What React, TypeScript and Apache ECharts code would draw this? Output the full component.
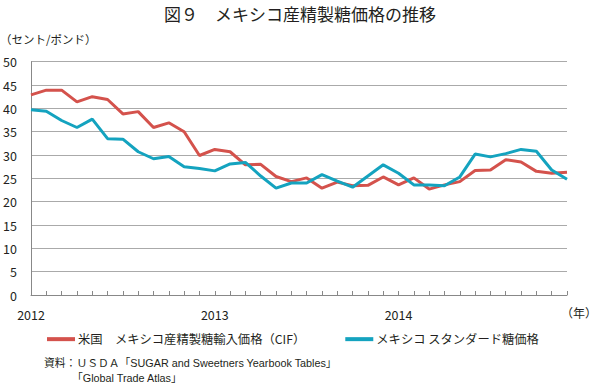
import React, { useEffect, useRef } from "react";
import * as echarts from "echarts";

const months: string[] = [
  "2012-01","2012-02","2012-03","2012-04","2012-05","2012-06","2012-07","2012-08","2012-09","2012-10","2012-11","2012-12",
  "2013-01","2013-02","2013-03","2013-04","2013-05","2013-06","2013-07","2013-08","2013-09","2013-10","2013-11","2013-12",
  "2014-01","2014-02","2014-03","2014-04","2014-05","2014-06","2014-07","2014-08","2014-09","2014-10","2014-11","2014-12",
];

const usImportCIF: number[] = [
  42.9, 43.9, 43.9, 41.4, 42.5, 41.9, 38.8, 39.3, 35.9, 36.9, 35.0, 29.9,
  31.2, 30.7, 27.9, 28.0, 25.4, 24.3, 25.1, 22.9, 24.2, 23.4, 23.5, 25.3,
  23.6, 25.1, 22.7, 23.6, 24.3, 26.7, 26.8, 29.0, 28.5, 26.5, 26.1, 26.3,
];

const mexicoStandard: number[] = [
  39.7, 39.4, 37.4, 35.9, 37.7, 33.5, 33.4, 30.7, 29.2, 29.7, 27.5, 27.1,
  26.6, 28.1, 28.4, 25.5, 22.9, 24.0, 24.0, 25.8, 24.4, 23.1, 25.5, 27.9,
  26.1, 23.6, 23.6, 23.4, 25.3, 30.2, 29.6, 30.3, 31.2, 30.8, 26.8, 24.8,
];

const seriesNames: string[] = [
  "米国　メキシコ産精製糖輸入価格（CIF）",
  "メキシコ スタンダード糖価格",
];

const titleText = "図９　メキシコ産精製糖価格の推移";
const unitText = "（セント/ポンド）";
const yearUnit = "（年）";
const sourceLines: string[] = [
  "資料：ＵＳＤＡ「SUGAR and Sweetners Yearbook Tables」",
  "「Global Trade Atlas」",
];

const FONT = "'Noto Sans CJK JP', 'Noto Sans', sans-serif";
const SRC_FONT = "'Liberation Sans', 'Noto Sans CJK JP', sans-serif";

export default function App() {
  const ref = useRef<HTMLDivElement>(null);

  useEffect(() => {
    document.body.style.margin = "0";
    if (!ref.current) return;
    const chart = echarts.init(ref.current, null, { renderer: "svg" });
    chart.setOption({
      animation: false,
      backgroundColor: "#ffffff",
      textStyle: { fontFamily: FONT },
      title: {
        text: titleText,
        left: "center",
        top: 0,
        textStyle: { fontSize: 17, fontWeight: "normal", color: "#231f20", fontFamily: FONT },
      },
      legend: {
        left: 42,
        top: 328,
        itemWidth: 28,
        itemHeight: 4,
        itemGap: 40,
        icon: "rect",
        textStyle: { fontSize: 12.3, color: "#231f20", fontFamily: FONT, padding: [0, 0, 0, -2] },
        data: seriesNames,
      },
      grid: { left: 31, right: 33, top: 61.7, bottom: 89, containLabel: false },
      xAxis: {
        type: "category",
        data: months,
        boundaryGap: false,
        axisLine: { show: true, lineStyle: { color: "#888", width: 1 } },
        axisTick: { show: true, inside: true, length: 4, interval: 0, lineStyle: { color: "#888" } },
        axisLabel: {
          interval: (i: number) => i % 12 === 0,
          formatter: (v: string) => v.slice(0, 4),
          fontSize: 12.5,
          color: "#231f20",
          margin: 13,
          fontFamily: FONT,
        },
        splitLine: { show: false },
      },
      yAxis: {
        type: "value",
        min: 0,
        max: 50,
        interval: 5,
        axisLine: { show: true, lineStyle: { color: "#888", width: 1 } },
        axisTick: { show: false },
        axisLabel: { fontSize: 12.5, color: "#231f20", margin: 14, fontFamily: FONT },
        splitLine: { show: true, lineStyle: { color: "#aaa", width: 1 } },
      },
      series: [
        {
          name: seriesNames[0],
          type: "line",
          data: usImportCIF,
          symbol: "none",
          lineStyle: { width: 3, color: "#d4524c" },
          itemStyle: { color: "#d4524c" },
        },
        {
          name: seriesNames[1],
          type: "line",
          data: mexicoStandard,
          symbol: "none",
          lineStyle: { width: 3, color: "#14a3bf" },
          itemStyle: { color: "#14a3bf" },
        },
      ],
      graphic: [
        {
          type: "text",
          left: 0,
          top: 33,
          style: { text: unitText, fontSize: 11.5, fill: "#231f20", fontFamily: FONT },
        },
        {
          type: "text",
          right: 3,
          top: 306,
          style: { text: yearUnit, fontSize: 12, fill: "#231f20", fontFamily: FONT },
        },
        {
          type: "text",
          left: 44,
          top: 358,
          style: { text: sourceLines[0], fontSize: 10.8, fill: "#231f20", fontFamily: SRC_FONT },
        },
        {
          type: "text",
          left: 72,
          top: 373,
          style: { text: sourceLines[1], fontSize: 10.8, fill: "#231f20", fontFamily: SRC_FONT },
        },
      ],
    });
    return () => chart.dispose();
  }, []);

  return <div ref={ref} style={{ width: 600, height: 384 }} />;
}
